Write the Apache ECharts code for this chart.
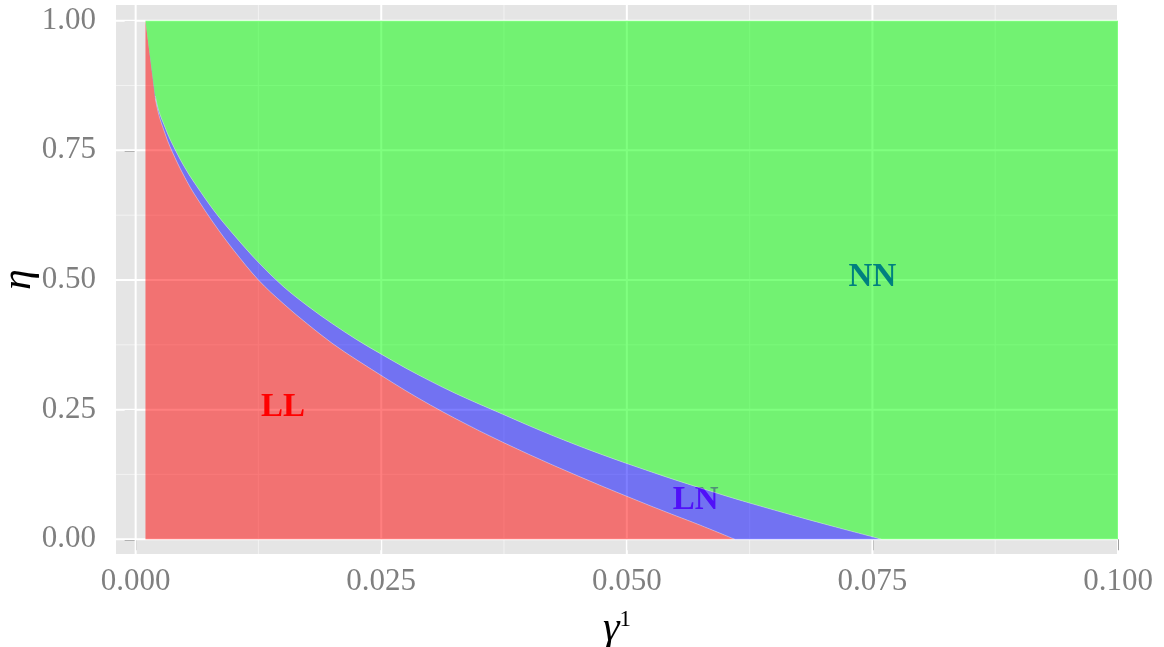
<!DOCTYPE html>
<html>
<head>
<meta charset="utf-8">
<script src="https://cdn.jsdelivr.net/npm/echarts@6/dist/echarts.min.js"></script>
<style>
html,body{margin:0;padding:0;background:#fff;}
#chart{width:1164px;height:647px;}
</style>
</head>
<body>
<div id="chart"></div>
<script>
// ---- data ----
const gammaLL = [0.001, 0.002, 0.003, 0.004, 0.005, 0.006, 0.008, 0.010, 0.0125, 0.015, 0.0175, 0.020, 0.0225, 0.025, 0.0275, 0.030, 0.0325, 0.035, 0.0375, 0.040, 0.0425, 0.045, 0.0475, 0.050, 0.0525, 0.055, 0.0575, 0.061];
const etaLL   = [1.000, 0.850, 0.782, 0.736, 0.698, 0.665, 0.608, 0.557, 0.500, 0.455, 0.415, 0.378, 0.346, 0.316, 0.2865, 0.259, 0.2333, 0.209, 0.186, 0.164, 0.1428, 0.1223, 0.1023, 0.0828, 0.0638, 0.0452, 0.027, 0.000];
const gammaLN = [0.001, 0.002, 0.003, 0.004, 0.005, 0.006, 0.008, 0.010, 0.0125, 0.015, 0.0175, 0.020, 0.0225, 0.025, 0.0275, 0.030, 0.0325, 0.035, 0.0375, 0.040, 0.0425, 0.045, 0.0475, 0.050, 0.0525, 0.055, 0.0575, 0.060, 0.0625, 0.065, 0.0675, 0.070, 0.0725, 0.075, 0.0759];
const etaLN   = [1.000, 0.855, 0.794, 0.752, 0.717, 0.687, 0.633, 0.587, 0.534, 0.488, 0.450, 0.416, 0.385, 0.357, 0.330, 0.305, 0.2818, 0.2605, 0.240, 0.2193, 0.1995, 0.1808, 0.163, 0.146, 0.1298, 0.114, 0.0988, 0.084, 0.0698, 0.0563, 0.043, 0.030, 0.0173, 0.0048, 0.000];
const gammaMin = 0.001, gammaMax = 0.1, etaMin = 0, etaMax = 1;

const regionNames = ['LL', 'LN', 'NN'];
const labelX = [0.015, 0.057, 0.075];
const labelY = [0.255, 0.075, 0.505];

const xTicks = [0, 0.025, 0.05, 0.075, 0.1];
const xTickLabels = ['0.000', '0.025', '0.050', '0.075', '0.100'];
const xMinor = [0.0125, 0.0375, 0.0625, 0.0875];
const yTicks = [0, 0.25, 0.5, 0.75, 1];
const yTickLabels = ['0.00', '0.25', '0.50', '0.75', '1.00'];
const yMinor = [0.125, 0.375, 0.625, 0.875];

// ---- layout / style ----
const X0 = -0.002, X1 = 0.1, Y0 = -0.0284, Y1 = 1.0303;
const SERIF = '"Liberation Serif", "DejaVu Serif", serif';
const fillColors = ['rgba(255,0,0,0.5)', 'rgba(0,0,255,0.5)', 'rgba(0,255,0,0.5)'];
const textColors = ['#FF0000', '#A020F0', '#0000FF'];

// smooth (Catmull-Rom) segments through pixel points; first segment kept straight
function segments(p) {
  const segs = [];
  for (let i = 0; i < p.length - 1; i++) {
    const a = p[i], b = p[i + 1];
    if (i === 0) { segs.push({a: a, c1: a, c2: b, b: b}); continue; }
    const pa = p[i - 1], pb = p[Math.min(i + 2, p.length - 1)];
    segs.push({a: a,
      c1: [a[0] + (b[0] - pa[0]) / 6, a[1] + (b[1] - pa[1]) / 6],
      c2: [b[0] - (pb[0] - a[0]) / 6, b[1] - (pb[1] - a[1]) / 6],
      b: b});
  }
  return segs;
}
function fwd(segs) { return segs.map(s => 'C' + s.c1.join(',') + ' ' + s.c2.join(',') + ' ' + s.b.join(',')).join(' '); }
function bwd(segs) { return segs.slice().reverse().map(s => 'C' + s.c2.join(',') + ' ' + s.c1.join(',') + ' ' + s.a.join(',')).join(' '); }
function P(pt) { return pt[0] + ',' + pt[1]; }

const chart = echarts.init(document.getElementById('chart'), null, {renderer: 'canvas'});

const option = {
  animation: false,
  grid: {left: 116, right: 46, top: 5, bottom: 93, show: true, backgroundColor: '#E5E5E5', borderWidth: 0,
    containLabel: false, outerBoundsMode: 'none'},
  xAxis: {
    type: 'value', min: X0, max: X1,
    name: '{g|γ}{s|1}', nameLocation: 'middle', nameGap: 54, nameMoveOverlap: false,
    nameTextStyle: {
      rich: {
        g: {fontFamily: SERIF, fontStyle: 'italic', fontSize: 42, color: '#000', lineHeight: 42},
        s: {fontFamily: SERIF, fontSize: 23, color: '#000', verticalAlign: 'top', lineHeight: 23}
      }
    },
    axisLine: {show: false},
    axisTick: {show: true, length: 11, lineStyle: {color: '#7F7F7F', width: 1.5}, customValues: xTicks},
    axisLabel: {show: true, customValues: xTicks, margin: 12, fontFamily: SERIF, fontSize: 31, color: '#7F7F7F',
      formatter: v => { const i = xTicks.findIndex(t => Math.abs(t - v) < 1e-9); return i >= 0 ? xTickLabels[i] : ''; }},
    splitLine: {show: false}
  },
  yAxis: {
    type: 'value', min: Y0, max: Y1,
    name: 'η', nameLocation: 'middle', nameGap: 76, nameRotate: 90, nameMoveOverlap: false,
    nameTextStyle: {fontFamily: SERIF, fontStyle: 'italic', fontSize: 42, color: '#000'},
    axisLine: {show: false},
    axisTick: {show: true, length: 11, lineStyle: {color: '#7F7F7F', width: 1.5}, customValues: yTicks},
    axisLabel: {show: true, customValues: yTicks, margin: 20, fontFamily: SERIF, fontSize: 31, color: '#7F7F7F',
      formatter: v => { const i = yTicks.findIndex(t => Math.abs(t - v) < 1e-9); return i >= 0 ? yTickLabels[i] : ''; }},
    splitLine: {show: false}
  },
  series: [
    { // grid lines
      type: 'custom', z: 1, silent: true, clip: true,
      data: [[0, 0]],
      renderItem: function (params, api) {
        const children = [];
        function hline(v, w, c) {
          const a = api.coord([X0, v]), b = api.coord([X1, v]);
          children.push({type: 'line', shape: {x1: a[0], y1: a[1], x2: b[0], y2: b[1]}, style: {stroke: c, lineWidth: w}});
        }
        function vline(v, w, c) {
          const a = api.coord([v, Y0]), b = api.coord([v, Y1]);
          children.push({type: 'line', shape: {x1: a[0], y1: a[1], x2: b[0], y2: b[1]}, style: {stroke: c, lineWidth: w}});
        }
        yMinor.forEach(v => hline(v, 1, '#F2F2F2'));
        xMinor.forEach(v => vline(v, 1, '#F2F2F2'));
        yTicks.forEach(v => hline(v, 2, '#FFFFFF'));
        xTicks.forEach(v => vline(v, 2, '#FFFFFF'));
        return {type: 'group', children: children};
      }
    },
    { // region labels (drawn beneath the translucent fills)
      type: 'custom', z: 2, silent: true, clip: false,
      data: labelX.map((x, i) => [x, labelY[i]]),
      renderItem: function (params, api) {
        const i = params.dataIndex;
        const p = api.coord([labelX[i], labelY[i]]);
        return {type: 'text', x: p[0], y: p[1], style: {text: regionNames[i], fill: textColors[i],
          font: 'bold 33px ' + SERIF, align: 'center', verticalAlign: 'middle'}};
      }
    },
    { // regions
      type: 'custom', z: 3, silent: true, clip: true,
      data: [[0, 0], [1, 0], [2, 0]],
      renderItem: function (params, api) {
        const i = params.dataIndex;
        const ll = gammaLL.map((g, k) => api.coord([g, etaLL[k]]));
        const ln = gammaLN.map((g, k) => api.coord([g, etaLN[k]]));
        const sLL = segments(ll), sLN = segments(ln);
        let d;
        if (i === 0) {
          d = 'M' + P(api.coord([gammaMin, etaMin])) + ' L' + P(ll[0]) + ' ' + fwd(sLL) + ' Z';
        } else if (i === 1) {
          d = 'M' + P(ll[0]) + ' ' + fwd(sLL) + ' L' + P(ln[ln.length - 1]) + ' ' + bwd(sLN) + ' Z';
        } else {
          d = 'M' + P(ln[0]) + ' ' + fwd(sLN) + ' L' + P(api.coord([gammaMax, etaMin])) +
              ' L' + P(api.coord([gammaMax, etaMax])) + ' Z';
        }
        const children = [{type: 'path', shape: {pathData: d}, style: {fill: fillColors[i], stroke: null}}];
        if (i === 2) {
          // faint light seams along the region boundaries
          children.push({type: 'path', shape: {pathData: 'M' + P(ll[1]) + ' ' + fwd(sLL.slice(1))},
            style: {fill: null, stroke: 'rgba(255,255,255,0.4)', lineWidth: 0.8}});
          children.push({type: 'path', shape: {pathData: 'M' + P(ln[1]) + ' ' + fwd(sLN.slice(1))},
            style: {fill: null, stroke: 'rgba(255,255,255,0.4)', lineWidth: 0.8}});
        }
        return {type: 'group', children: children};
      }
    }
  ]
};
chart.setOption(option);
</script>
</body>
</html>
